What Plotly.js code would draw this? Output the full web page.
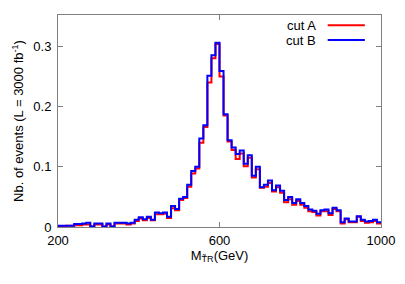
<!DOCTYPE html>
<html>
<head>
<meta charset="utf-8">
<script src="https://cdn.plot.ly/plotly-3.0.1.min.js"></script>
<style>html,body{margin:0;padding:0;background:#fff;}#chart{width:405px;height:284px;}</style>
</head>
<body>
<div id="chart"></div>
<script>
// Bin edges (GeV), 10 GeV bins from 200 to 1000
const binEdges = [200,210,220,230,240,250,260,270,280,290,300,310,320,330,340,350,360,370,380,390,
  400,410,420,430,440,450,460,470,480,490,500,510,520,530,540,550,560,570,580,590,
  600,610,620,630,640,650,660,670,680,690,700,710,720,730,740,750,760,770,780,790,
  800,810,820,830,840,850,860,870,880,890,900,910,920,930,940,950,960,970,980,990,1000];

const cutA = [0.001,0.001,0.002,0.002,0.003,0.003,0.004,0.004,0.001,0.004,
  0.004,0.001,0.004,0.001,0.006,0.006,0.006,0.004,0.006,0.010,
  0.014,0.011,0.015,0.011,0.021,0.021,0.022,0.015,0.031,0.028,
  0.045,0.048,0.067,0.089,0.097,0.140,0.166,0.240,0.280,0.304,
  0.250,0.185,0.142,0.128,0.113,0.122,0.101,0.115,0.082,0.096,
  0.065,0.067,0.073,0.059,0.066,0.057,0.041,0.046,0.037,0.043,
  0.037,0.032,0.026,0.025,0.019,0.026,0.026,0.020,0.030,0.026,
  0.006,0.013,0.008,0.008,0.017,0.010,0.007,0.008,0.010,0.006];

const cutB = [0.002,0.002,0.002,0.002,0.005,0.005,0.006,0.007,0.001,0.006,
  0.006,0.001,0.006,0.001,0.007,0.007,0.007,0.006,0.007,0.012,
  0.016,0.013,0.017,0.012,0.024,0.023,0.024,0.017,0.035,0.030,
  0.047,0.050,0.070,0.093,0.100,0.147,0.169,0.251,0.285,0.306,
  0.259,0.187,0.144,0.132,0.121,0.127,0.105,0.119,0.085,0.100,
  0.066,0.070,0.077,0.061,0.069,0.060,0.045,0.050,0.040,0.046,
  0.040,0.035,0.029,0.027,0.022,0.028,0.029,0.023,0.032,0.028,
  0.008,0.014,0.009,0.009,0.018,0.012,0.009,0.010,0.012,0.008];

const seriesNames = ["cut A", "cut B"];
const xTicks = [200, 600, 1000];
const yTicks = [0, 0.1, 0.2, 0.3];
const yTickLabels = ["0", "0.1", "0.2", "0.3"];

function stepY(vals) { return vals.concat([vals[vals.length - 1]]); }

const traces = [
  {x: binEdges, y: stepY(cutA), name: seriesNames[0], type: "scatter", mode: "lines",
   line: {shape: "hv", color: "#ff0000", width: 2}},
  {x: binEdges, y: stepY(cutB), name: seriesNames[1], type: "scatter", mode: "lines",
   line: {shape: "hv", color: "#0000ff", width: 2}}
];

const font = {family: "Liberation Sans, Arial, sans-serif", color: "#000"};

const layout = {
  width: 405, height: 284,
  margin: {l: 58, r: 24, t: 15, b: 57},
  paper_bgcolor: "#fff", plot_bgcolor: "#fff",
  showlegend: false,
  font: Object.assign({size: 13}, font),
  xaxis: {
    range: [200, 1000], tickvals: xTicks, ticktext: xTicks.map(String),
    ticks: "inside", ticklen: 5, tickcolor: "#808080", tickwidth: 1,
    showline: true, linecolor: "#808080", linewidth: 1, mirror: "ticks",
    showgrid: false, zeroline: false, ticklabelstandoff: 1,
    tickfont: Object.assign({size: 13}, font),
    title: {text: "M<sub>T̃R</sub>(GeV)", font: Object.assign({size: 13}, font), standoff: 3}
  },
  yaxis: {
    range: [0, 0.352], tickvals: yTicks, ticktext: yTickLabels,
    ticks: "inside", ticklen: 5, tickcolor: "#808080", tickwidth: 1,
    showline: true, linecolor: "#808080", linewidth: 1, mirror: "ticks",
    showgrid: false, zeroline: false, ticklabelstandoff: 3,
    tickfont: Object.assign({size: 13}, font),
    title: {text: "Nb. of events (L = 3000 fb<sup>-1</sup>)", font: Object.assign({size: 13}, font), standoff: 6}
  },
  annotations: [
    {xref: "paper", yref: "paper", x: 0.805, y: 0.952, xanchor: "right", yanchor: "middle",
     text: seriesNames[0], showarrow: false, font: Object.assign({size: 13}, font)},
    {xref: "paper", yref: "paper", x: 0.805, y: 0.882, xanchor: "right", yanchor: "middle",
     text: seriesNames[1], showarrow: false, font: Object.assign({size: 13}, font)}
  ],
  shapes: [
    {type: "line", xref: "paper", yref: "paper", x0: 0.835, x1: 0.95, y0: 0.952, y1: 0.952,
     line: {color: "#ff0000", width: 2}},
    {type: "line", xref: "paper", yref: "paper", x0: 0.835, x1: 0.95, y0: 0.882, y1: 0.882,
     line: {color: "#0000ff", width: 2}}
  ]
};

Plotly.newPlot("chart", traces, layout, {displayModeBar: false, staticPlot: true});
</script>
</body>
</html>
